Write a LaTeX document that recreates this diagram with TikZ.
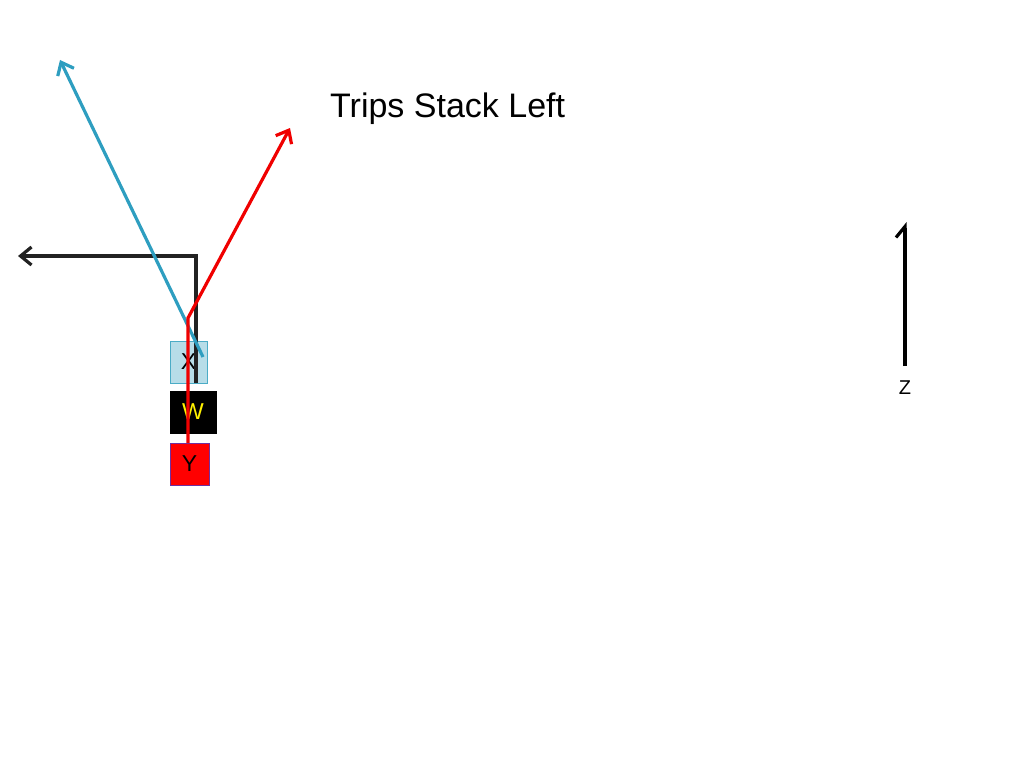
\documentclass[tikz,border=0pt]{standalone}
\usepackage{fontspec}
\setmainfont{Liberation Sans}
\usetikzlibrary{arrows.meta}
\definecolor{routeblue}{HTML}{2E9EC0}
\definecolor{routered}{HTML}{F00000}
\definecolor{routeblack}{HTML}{222222}
\definecolor{xfill}{HTML}{B7DDE8}
\definecolor{xborder}{HTML}{4BACC6}
\definecolor{yborder}{HTML}{7030A0}
\tikzset{
  player/.style={draw, line width=1pt, minimum width=#1, minimum height=42pt, inner sep=0pt, font=\fontsize{23}{26}\selectfont},
  route/.style={line width=3.2pt, line join=miter, -{Straight Barb[length=11pt,width=18pt,line width=3.2pt]}},
}
\begin{document}
\begin{tikzpicture}[x=1pt,y=-1pt]
\useasboundingbox (0,0) rectangle (1024,768);
% players
\node[player=37pt, fill=xfill, draw=xborder, text=black] (X) at (188.5,362) {X};
\node[player=46pt, fill=black, draw=black, text=yellow] (W) at (193,412) {W};
\node[player=39pt, fill=red, draw=yborder, text=black] (Y) at (189.5,464) {Y};
% route points
\coordinate (bk0) at (196,383);
\coordinate (bk1) at (196,256);
\coordinate (bk2) at (18,256);
\coordinate (bl0) at (203,357);
\coordinate (bl1) at (60,60);
\coordinate (rd0) at (188,443);
\coordinate (rd1) at (188,318);
\coordinate (rd2) at (290,128);
\draw[route, draw=routeblack] (bk0) -- (bk1) -- (bk2);
\draw[route, draw=routeblue] (bl0) -- (bl1);
\draw[route, draw=routered] (rd0) -- (rd1) -- (rd2);
% Z
\coordinate (z0) at (905,366);
\coordinate (z1) at (905,222);
\draw[line width=3.2pt, draw=black, -{Straight Barb[left,length=11pt,width=18pt,line width=3.2pt]}] (z0) -- (z1);
\node[font=\fontsize{20}{24}\selectfont] (Z) at (905,388) {Z};
% title
\node[anchor=west, font=\fontsize{34}{40}\selectfont, inner sep=0pt] (title) at (330,109) {Trips Stack Left};
\end{tikzpicture}
\end{document}
